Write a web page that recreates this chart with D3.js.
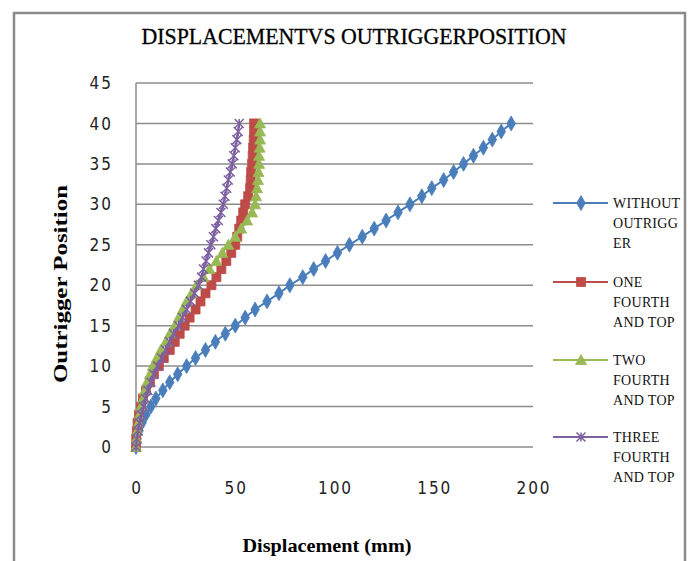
<!DOCTYPE html>
<html><head>
<meta charset="utf-8">
<title>Displacement vs Outrigger Position</title>
<script src="https://cdn.jsdelivr.net/npm/d3@7"></script>
<style>
  body { margin: 0; background: #fff; }
  text.tick { font-family: "Liberation Sans Narrow", "DejaVu Sans Condensed", sans-serif; font-size: 17px; letter-spacing: 2px; fill: #222; }
  text.legend { font-family: "Liberation Serif", serif; font-size: 14px; letter-spacing: 0.3px; fill: #111; }
  line.grid { stroke: #8c8c8c; stroke-width: 1.5px; }
</style>
</head>
<body>
<svg id="chart" width="688" height="561"></svg>
<script>
// storey position where outrigger placed (y) and displacement (x, mm)
const positions = [0,1,2,3,4,5,6,7,8,9,10,11,12,13,14,15,16,17,18,19,20,
                   21,22,23,24,25,26,27,28,29,30,31,32,33,34,35,36,37,38,39,40];

const withoutOutrigger = [0,0.5,1.5,3,5,7.5,10,13.5,17,21,25.5,30,35,40,45,50,55,60,66,72,77.5,
                          84,89.5,95.5,101.5,107.5,114,120,126,132,138,144,149,155,160,165,170,175,179.5,184,189];
const oneFourth = [0,0.1,0.4,0.8,1.5,2.5,3.5,5,7,9,11.5,14,17,19.5,22,24.5,27,30,32.5,35,38,
                   40.5,43,45.5,48,50,51,52,53,54,55,56.5,57.5,57.8,58,58.5,58.8,59,59.3,59.5,59.5];
const twoFourth = [0,0.3,0.7,1.2,1.8,2.5,3.5,4.5,5.5,7,8.5,10.5,12.5,15,17,19.5,21.5,23.5,25.5,28,30.5,
                   34,37,40.5,43.5,46.5,50,53,56,58.5,60,60.5,61,61.5,61.7,62,62,62.3,62.5,62.5,62.5];
const threeFourth = [0,0.4,1,1.8,2.7,3.7,4.8,6,7.5,9,11,13,15,17,19,21.5,23.5,25.5,27.5,29.5,31.5,
                     33,34,35.3,36.5,37.7,39,40.2,41.5,42.8,44,44.8,45.7,46.5,47.5,48.5,49.3,50,50.8,51.5,52];

const seriesNames = [["WITHOUT","OUTRIGG","ER"], ["ONE","FOURTH","AND TOP"],
                     ["TWO","FOURTH","AND TOP"], ["THREE","FOURTH","AND TOP"]];
const seriesColors = ["#4a7ebb", "#be4b48", "#98b954", "#7d60a0"];
const seriesMarkers = ["diamond", "square", "triangle", "x"];
const seriesValues = [withoutOutrigger, oneFourth, twoFourth, threeFourth];

const xTicks = [0, 50, 100, 150, 200];
const yTicks = [0, 5, 10, 15, 20, 25, 30, 35, 40, 45];

const svg = d3.select("#chart");

// outer chart border
svg.append("rect").attr("x", 14).attr("y", 13).attr("width", 671).attr("height", 580)
   .attr("fill", "none").attr("stroke", "#8a8a8a").attr("stroke-width", 2.5);

const x = d3.scaleLinear().domain([0, 200]).range([136, 533]);
const y = d3.scaleLinear().domain([0, 45]).range([447, 83]);

// gridlines
svg.selectAll("line.grid").data(yTicks)
   .join("line").attr("class", "grid")
   .attr("x1", x(0)).attr("x2", x(200))
   .attr("y1", d => y(d)).attr("y2", d => y(d));
svg.append("line").attr("class", "grid")
   .attr("x1", x(0)).attr("x2", x(0)).attr("y1", y(0)).attr("y2", y(45));

// tick labels
svg.selectAll("text.ytick").data(yTicks)
   .join("text").attr("class", "tick ytick")
   .attr("x", 113).attr("y", d => y(d)).attr("dy", "0.36em")
   .attr("text-anchor", "end").text(d => d);
svg.selectAll("text.xtick").data(xTicks)
   .join("text").attr("class", "tick xtick")
   .attr("x", d => x(d) + 1).attr("y", 494)
   .attr("text-anchor", "middle").text(d => d);

// titles
svg.append("text").attr("x", 354).attr("y", 44).attr("text-anchor", "middle")
   .attr("font-family", "Liberation Serif, serif").attr("font-size", 23)
   .attr("textLength", 425).attr("lengthAdjust", "spacingAndGlyphs")
   .attr("stroke", "#000").attr("stroke-width", 0.3)
   .text("DISPLACEMENTVS OUTRIGGERPOSITION");
svg.append("text").attr("x", 327).attr("y", 552).attr("text-anchor", "middle")
   .attr("font-family", "Liberation Serif, serif").attr("font-size", 18).attr("font-weight", "bold")
   .attr("textLength", 169).attr("lengthAdjust", "spacingAndGlyphs")
   .text("Displacement (mm)");
svg.append("text").attr("transform", "translate(67,284) rotate(-90)").attr("text-anchor", "middle")
   .attr("font-family", "Liberation Serif, serif").attr("font-size", 18).attr("font-weight", "bold")
   .attr("textLength", 198).attr("lengthAdjust", "spacingAndGlyphs")
   .text("Outrigger Position");

// marker path for each kind
function markerPath(kind) {
  if (kind === "diamond") return d3.symbol(d3.symbolDiamond, 64)();
  if (kind === "square") return d3.symbol(d3.symbolSquare, 81)();
  if (kind === "triangle") return "M0,-5.5L5.5,4.5L-5.5,4.5Z";
  return "M-4.5,-4.5L4.5,4.5M-4.5,4.5L4.5,-4.5M0,-4.5L0,4.5";
}

const line = d3.line().x(d => x(d[0])).y(d => y(d[1]));
const plot = svg.append("g");

seriesValues.forEach((vals, i) => {
  const pts = vals.map((v, k) => [v, positions[k]]);
  plot.append("path").datum(pts)
      .attr("fill", "none").attr("stroke", seriesColors[i]).attr("stroke-width", 2)
      .attr("d", line);
  plot.selectAll("path.m" + i).data(pts)
      .join("path").attr("class", "m" + i)
      .attr("transform", d => "translate(" + x(d[0]) + "," + y(d[1]) + ")")
      .attr("d", markerPath(seriesMarkers[i]))
      .attr("fill", seriesMarkers[i] === "x" ? "none" : seriesColors[i])
      .attr("stroke", seriesColors[i])
      .attr("stroke-width", seriesMarkers[i] === "x" ? 1.5 : 0.8);
});

// legend
const legendY = [203, 282, 360, 437];
const legend = svg.append("g");
seriesNames.forEach((lines, i) => {
  const ly = legendY[i];
  legend.append("line").attr("x1", 553).attr("x2", 608).attr("y1", ly).attr("y2", ly)
        .attr("stroke", seriesColors[i]).attr("stroke-width", 2);
  legend.append("path").attr("transform", "translate(581," + ly + ")")
        .attr("d", markerPath(seriesMarkers[i]))
        .attr("fill", seriesMarkers[i] === "x" ? "none" : seriesColors[i])
        .attr("stroke", seriesColors[i]).attr("stroke-width", seriesMarkers[i] === "x" ? 1.5 : 0.8);
  lines.forEach((t, j) => {
    legend.append("text").attr("class", "legend")
          .attr("x", 613).attr("y", ly + j * 20).attr("dy", "0.35em").text(t);
  });
});
</script>
</body>
</html>
